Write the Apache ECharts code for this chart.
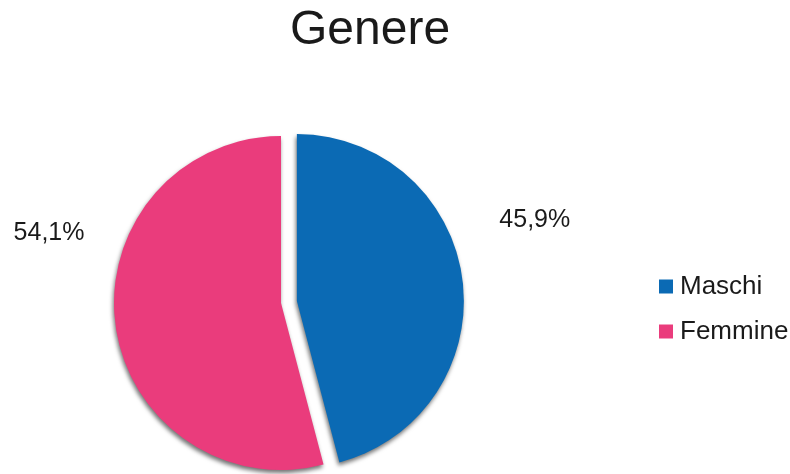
<!DOCTYPE html>
<html>
<head>
<meta charset="utf-8">
<script src="https://cdn.jsdelivr.net/npm/echarts@6/dist/echarts.min.js"></script>
<style>
html,body{margin:0;padding:0;background:#fff;}
#chart{width:790px;height:474px;}
</style>
</head>
<body>
<div id="chart"></div>
<script>
const TITLE = 'Genere';
const categories = ['Maschi', 'Femmine'];
const values = [45.9, 54.1];
const colors = ['#0b6ab4', '#ea3c7c'];
const labelShift = [[-13, -57], [19, -93]];

const chart = echarts.init(document.getElementById('chart'), null, {renderer: 'canvas'});
const font = '"Liberation Sans", Arial, Helvetica, sans-serif';

chart.setOption({
  animation: false,
  backgroundColor: '#ffffff',
  title: {
    text: TITLE,
    left: 285,
    top: 2,
    textStyle: {fontFamily: font, fontSize: 48, fontWeight: 'normal', color: '#1a1a1a'}
  },
  legend: {
    orient: 'vertical',
    left: 654,
    top: 268,
    itemWidth: 14,
    itemHeight: 14,
    itemGap: 18,
    icon: 'rect',
    selectedMode: false,
    data: categories,
    textStyle: {fontFamily: font, fontSize: 26, lineHeight: 27, color: '#1a1a1a', padding: [0, 0, 0, 2]}
  },
  series: [{
    type: 'pie',
    center: [281, 303],
    radius: 167,
    startAngle: 90,
    clockwise: true,
    selectedMode: 'multiple',
    selectedOffset: 16,
    avoidLabelOverlap: false,
    itemStyle: {shadowColor: 'rgba(0,0,0,0.55)', shadowBlur: 4, shadowOffsetY: 3, shadowOffsetX: -1},
    label: {
      show: true,
      position: 'outside',
      fontFamily: font,
      fontSize: 25,
      color: '#1a1a1a',
      formatter: p => p.value.toFixed(1).replace('.', ',') + '%'
    },
    labelLine: {show: false},
    labelLayout: p => ({dx: labelShift[p.dataIndex][0], dy: labelShift[p.dataIndex][1]}),
    emphasis: {disabled: true},
    data: categories.map((c, i) => ({
      name: c,
      value: values[i],
      selected: i === 0,
      itemStyle: {color: colors[i]}
    }))
  }]
});
</script>
</body>
</html>
